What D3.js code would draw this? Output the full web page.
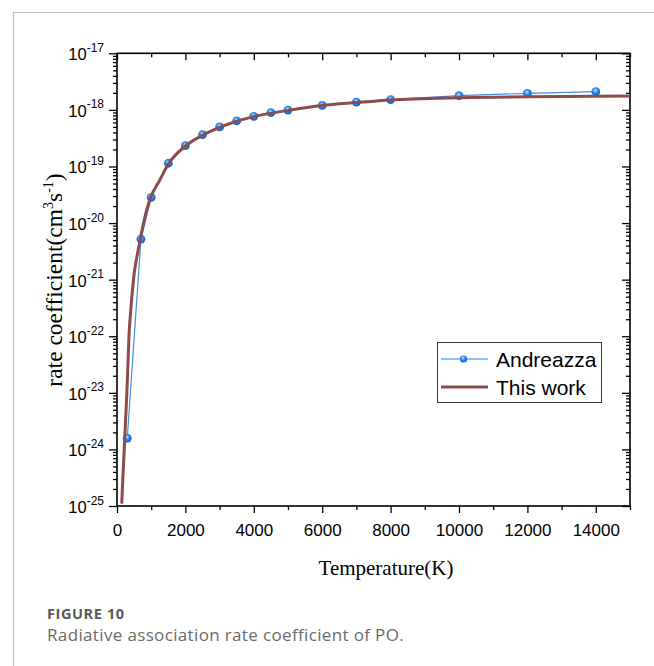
<!DOCTYPE html>
<html>
<head>
<meta charset="utf-8">
<script src="https://cdn.jsdelivr.net/npm/d3@7"></script>
<style>
  html, body { margin: 0; padding: 0; background: #fff; }
  svg { display: block; }
</style>
</head>
<body>
<svg id="chart" width="654" height="666"></svg>
<script>
// ---- data ----
const andreazzaT = [300, 700, 1000, 1500, 2000, 2500, 3000, 3500, 4000, 4500, 5000, 6000, 7000, 8000, 10000, 12000, 14000];
const andreazzaK = [1.58e-24, 5.2e-21, 2.85e-20, 1.14e-19, 2.33e-19, 3.65e-19, 4.99e-19, 6.37e-19, 7.71e-19, 8.92e-19, 9.88e-19, 1.20e-18, 1.37e-18, 1.52e-18, 1.78e-18, 1.96e-18, 2.10e-18];
const thisWorkT = [140, 175, 215, 250, 285, 320, 350, 400, 450, 500, 575, 675, 775, 950, 1250, 1500, 2000, 2500, 3000, 3500, 4000, 5000, 6000, 7000, 8000, 10000, 12000, 15000];
const thisWorkK = [1.15e-25, 3.5e-25, 1.1e-24, 3.2e-24, 8.9e-24, 3.2e-23, 1.0e-22, 2.8e-22, 6.3e-22, 1.26e-21, 2.4e-21, 5.0e-21, 1.0e-20, 2.5e-20, 5.75e-20, 1.1e-19, 2.3e-19, 3.55e-19, 4.9e-19, 6.3e-19, 7.6e-19, 9.8e-19, 1.2e-18, 1.35e-18, 1.5e-18, 1.64e-18, 1.70e-18, 1.76e-18];
const xTicksMajor = [0, 2000, 4000, 6000, 8000, 10000, 12000, 14000];
const xTicksMinor = [1000, 3000, 5000, 7000, 9000, 11000, 13000, 15000];
const yTicksMajor = [1e-25, 1e-24, 1e-23, 1e-22, 1e-21, 1e-20, 1e-19, 1e-18, 1e-17];
const yExponents = ["-25", "-24", "-23", "-22", "-21", "-20", "-19", "-18", "-17"];
const seriesNames = ["Andreazza", "This work"];
const xTitle = "Temperature(K)";
const captionTitle = "FIGURE 10";
const captionText = "Radiative association rate coefficient of PO.";

// ---- layout ----
const L = 117, R = 630, T = 53.3, B = 506;
const svg = d3.select("#chart");
const x = d3.scaleLinear().domain([0, 15000]).range([L, R]);
const y = d3.scaleLog().domain([1e-25, 1e-17]).range([B, T]);

const blue = "#3d8fe6";
const brown = "#8b4c4a";

// figure frame (gray)
svg.append("path").attr("d", `M13.5,666 V12.5 H654`).attr("fill", "none")
  .attr("stroke", "#bdbdbd").attr("stroke-width", 1.2);

// minor y values
const yMinor = [];
for (let e = -25; e < -17; e++) for (let m = 2; m <= 9; m++) yMinor.push(m * Math.pow(10, e));

const tickFont = "Liberation Sans, Arial, Helvetica, sans-serif";

// bottom axis (outward)
const gB = svg.append("g").attr("transform", `translate(0,${B})`);
gB.call(d3.axisBottom(x).tickValues(xTicksMajor).tickSize(7).tickPadding(11).tickFormat(d3.format("d")));
gB.append("g").call(d3.axisBottom(x).tickValues(xTicksMinor).tickSize(4).tickFormat(""));
// top axis (inward)
const gT = svg.append("g").attr("transform", `translate(0,${T})`);
gT.call(d3.axisBottom(x).tickValues(xTicksMajor).tickSize(7).tickFormat(""));
gT.append("g").call(d3.axisBottom(x).tickValues(xTicksMinor).tickSize(4).tickFormat(""));
// left axis (outward)
const gL = svg.append("g").attr("transform", `translate(${L},0)`);
gL.call(d3.axisLeft(y).tickValues(yTicksMajor).tickSize(8).tickPadding(5).tickFormat(""));
gL.append("g").call(d3.axisLeft(y).tickValues(yMinor).tickSize(4).tickFormat(""));
// right axis (inward)
const gR = svg.append("g").attr("transform", `translate(${R},0)`);
gR.call(d3.axisLeft(y).tickValues(yTicksMajor).tickSize(8).tickFormat(""));
gR.append("g").call(d3.axisLeft(y).tickValues(yMinor).tickSize(4).tickFormat(""));

svg.selectAll(".domain").remove();
svg.selectAll(".tick line").attr("stroke", "#000").attr("stroke-width", 1.3);

gB.selectAll(".tick text").style("font-family", tickFont).attr("font-size", 17).attr("fill", "#000");

// y tick labels with superscripts
yTicksMajor.forEach((v, i) => {
  const t = svg.append("text").attr("x", 104).attr("y", y(v) + 7)
    .attr("text-anchor", "end").style("font-family", tickFont).attr("fill", "#000");
  t.append("tspan").attr("font-size", 16.5).text("10");
  t.append("tspan").attr("font-size", 12).attr("dy", -8.5).text(yExponents[i]);
});

// plot frame
svg.append("rect").attr("x", L).attr("y", T).attr("width", R - L).attr("height", B - T)
  .attr("fill", "none").attr("stroke", "#000").attr("stroke-width", 1.6);

// gradient for markers
const defs = svg.append("defs");
const grad = defs.append("radialGradient").attr("id", "ball").attr("cx", "0.45").attr("cy", "0.4").attr("r", "0.6")
  .attr("fx", "0.45").attr("fy", "0.35");
grad.append("stop").attr("offset", "0").attr("stop-color", "#e8f3ff");
grad.append("stop").attr("offset", "0.3").attr("stop-color", "#4da0f5");
grad.append("stop").attr("offset", "0.75").attr("stop-color", "#1470dc");
grad.append("stop").attr("offset", "1").attr("stop-color", "#0d5fc4");

const clip = defs.append("clipPath").attr("id", "plotclip");
clip.append("rect").attr("x", L).attr("y", T - 10).attr("width", R - L).attr("height", B - T + 10);

// Andreazza
const aData = andreazzaT.map((t, i) => [t, andreazzaK[i]]);
const line = d3.line().x(d => x(d[0])).y(d => y(d[1]));
svg.append("path").datum(aData).attr("d", line).attr("fill", "none")
  .attr("stroke", blue).attr("stroke-width", 1.2);
svg.append("g").selectAll("circle").data(aData).join("circle")
  .attr("cx", d => x(d[0])).attr("cy", d => y(d[1])).attr("r", 4.4)
  .attr("fill", "url(#ball)");

// This work
const wData = thisWorkT.map((t, i) => [t, thisWorkK[i]]);
const curve = d3.line().x(d => x(d[0])).y(d => y(d[1])).curve(d3.curveMonotoneX);
svg.append("path").datum(wData).attr("d", curve).attr("fill", "none")
  .attr("clip-path", "url(#plotclip)")
  .attr("stroke", brown).attr("stroke-width", 3).attr("stroke-linejoin", "round").attr("stroke-linecap", "round");

// legend
const lg = svg.append("g");
lg.append("rect").attr("x", 437.5).attr("y", 342.5).attr("width", 164).attr("height", 60)
  .attr("fill", "#fff").attr("stroke", "#333").attr("stroke-width", 1);
lg.append("line").attr("x1", 441).attr("x2", 488).attr("y1", 359).attr("y2", 359)
  .attr("stroke", "#6aaef0").attr("stroke-width", 1.5);
lg.append("circle").attr("cx", 463.5).attr("cy", 359).attr("r", 3.6).attr("fill", "url(#ball)");
lg.append("line").attr("x1", 441).attr("x2", 488).attr("y1", 387).attr("y2", 387)
  .attr("stroke", brown).attr("stroke-width", 3);
lg.append("text").attr("x", 496).attr("y", 366.5).style("font-family", tickFont).attr("font-size", 21)
  .attr("fill", "#000").text(seriesNames[0]);
lg.append("text").attr("x", 496).attr("y", 394.5).style("font-family", tickFont).attr("font-size", 21)
  .attr("fill", "#000").text(seriesNames[1]);

// axis titles
const serif = "Liberation Serif, Times New Roman, serif";
svg.append("text").attr("x", 386).attr("y", 575).attr("text-anchor", "middle")
  .style("font-family", serif).attr("font-size", 21).attr("fill", "#000").text(xTitle);

const yt = svg.append("text").attr("transform", "translate(62,280) rotate(-90)").attr("text-anchor", "middle")
  .style("font-family", serif).attr("font-size", 23.5).attr("fill", "#000");
yt.append("tspan").text("rate coefficient(cm");
yt.append("tspan").attr("font-size", 14).attr("dy", -9).text("3");
yt.append("tspan").attr("dy", 9).text("s");
yt.append("tspan").attr("font-size", 14).attr("dy", -9).text("-1");
yt.append("tspan").attr("dy", 9).text(")");

// caption
svg.append("text").attr("x", 47).attr("y", 619).style("font-family", "Open Sans, sans-serif")
  .attr("font-size", 14.5).attr("font-weight", "bold").attr("letter-spacing", 0.6).attr("fill", "#5a5a5a").text(captionTitle);
svg.append("text").attr("x", 47).attr("y", 641).style("font-family", "Open Sans, sans-serif")
  .attr("font-size", 17).attr("letter-spacing", 0.35).attr("fill", "#6a6a6a").text(captionText);
</script>
</body>
</html>
